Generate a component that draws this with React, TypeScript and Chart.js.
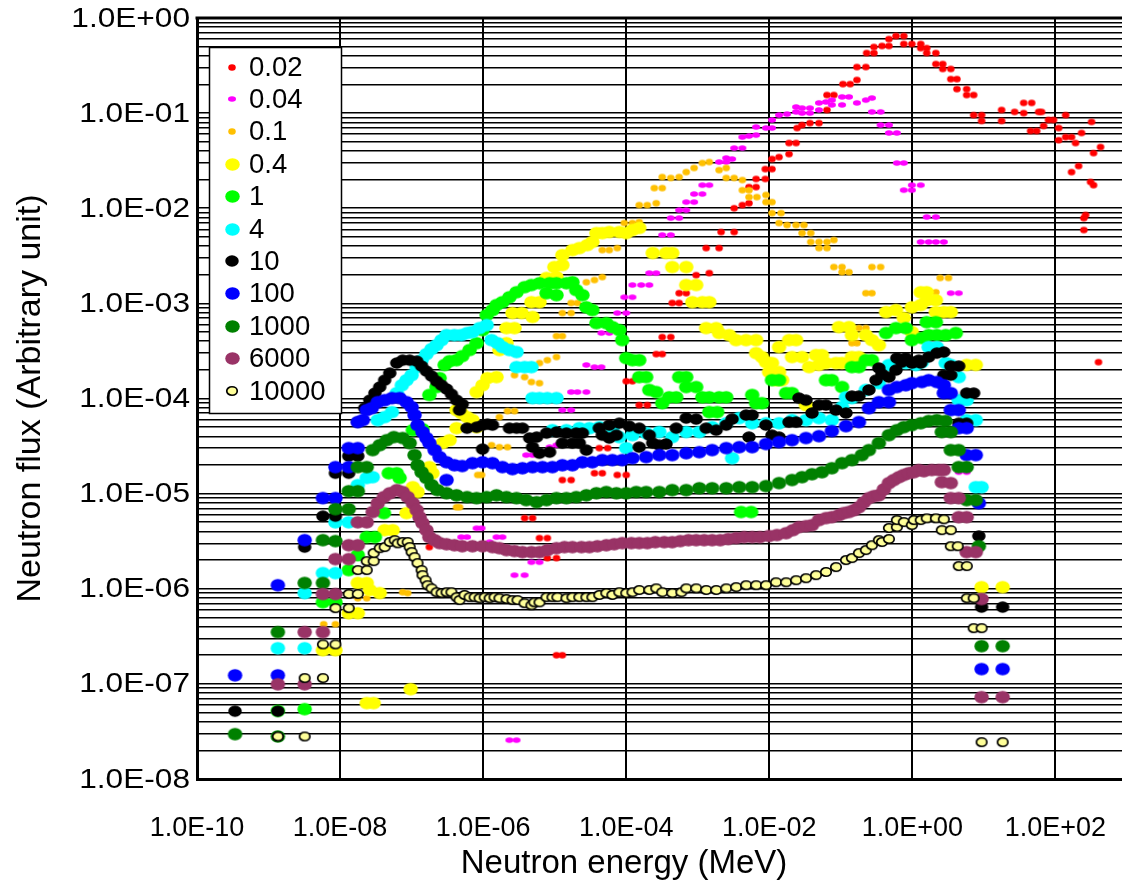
import React, { useEffect, useRef } from 'react';
import { Chart, registerables } from 'chart.js';

Chart.register(...registerables);

// ---------------- data (energy in MeV, flux in arbitrary unit) ----------------
const seriesNames = ['0.02', '0.04', '0.1', '0.4', '1', '4', '10', '100', '1000', '6000', '10000'];

const xTickValues = [1e-10, 1e-8, 1e-6, 1e-4, 1e-2, 1, 1e2];
const xTickLabels = ['1.0E-10', '1.0E-08', '1.0E-06', '1.0E-04', '1.0E-02', '1.0E+00', '1.0E+02'];
const yTickValues = [1, 1e-1, 1e-2, 1e-3, 1e-4, 1e-5, 1e-6, 1e-7, 1e-8];
const yTickLabels = ['1.0E+00', '1.0E-01', '1.0E-02', '1.0E-03', '1.0E-04', '1.0E-05', '1.0E-06', '1.0E-07', '1.0E-08'];

const s002: [number, number][] = [
  [1.77e-7, 2.74e-6], [3.8e-6, 5.53e-6], [4.9e-6, 5.53e-6], [6.13e-6, 3.41e-6], [7.9e-6, 3.41e-6], [7.9e-6, 2.1e-6],
  [1.06e-5, 2.1e-6], [1.06e-5, 2.0e-7], [1.28e-5, 2.0e-7], [1.28e-5, 1.39e-5], [1.7e-5, 1.39e-5], [3.6e-5, 1.64e-5],
  [4.63e-5, 1.64e-5], [4.2e-5, 3.01e-5], [5.5e-5, 3.01e-5], [5.8e-5, 5.5e-5], [7.5e-5, 1.57e-5], [1.0e-4, 1.57e-5],
  [1.0e-4, 1.52e-4], [1.22e-4, 1.52e-4], [1.52e-4, 8.52e-5], [1.97e-4, 8.52e-5], [2.63e-4, 2.93e-4], [3.19e-4, 2.93e-4],
  [3.19e-4, 4.42e-4], [4.2e-4, 4.42e-4], [4.4e-4, 1.01e-3], [5.5e-4, 1.01e-3], [5.5e-4, 1.28e-3], [6.9e-4, 1.28e-3],
  [9.5e-4, 1.98e-3], [1.45e-3, 2.08e-3], [1.31e-3, 3.81e-3], [1.99e-3, 3.81e-3], [2.12e-3, 5.62e-3], [3.23e-3, 5.62e-3],
  [3.23e-3, 1.0e-2], [4.2e-3, 1.08e-2], [5.2e-3, 1.13e-2], [5.2e-3, 1.67e-2], [6.54e-3, 1.67e-2], [6.54e-3, 2.03e-2],
  [8.8e-3, 2.03e-2], [8.8e-3, 2.58e-2], [1.09e-2, 2.58e-2], [1.09e-2, 3.29e-2], [1.37e-2, 3.45e-2], [1.89e-2, 3.71e-2],
  [1.89e-2, 4.85e-2], [2.37e-2, 4.85e-2], [2.45e-2, 6.97e-2], [2.87e-2, 7.5e-2], [3.7e-2, 7.86e-2], [4.95e-2, 7.86e-2],
  [6.4e-2, 1.08e-1], [6.4e-2, 1.55e-1], [8.0e-2, 1.55e-1], [1.07e-1, 2.02e-1], [1.35e-1, 2.02e-1], [1.68e-1, 2.23e-1],
  [1.68e-1, 3.05e-1], [2.24e-1, 3.05e-1], [2.3e-1, 4.28e-1], [2.9e-1, 4.28e-1], [2.9e-1, 4.96e-1], [3.76e-1, 5.08e-1],
  [4.7e-1, 5.08e-1], [4.7e-1, 6.0e-1], [5.9e-1, 6.46e-1], [7.6e-1, 6.46e-1], [7.6e-1, 5.33e-1], [9.85e-1, 5.33e-1],
  [1.31, 5.33e-1], [1.31, 4.83e-1], [1.59, 4.83e-1], [1.59, 4.28e-1], [2.13, 4.28e-1], [2.13, 3.28e-1], [2.66, 3.28e-1],
  [2.66, 2.91e-1], [3.45, 2.91e-1], [3.45, 2.28e-1], [4.2, 2.28e-1], [4.2, 1.79e-1], [5.75, 1.79e-1], [5.75, 1.55e-1],
  [7.2, 1.55e-1], [7.2, 9.53e-2], [9.3, 9.53e-2], [9.3, 8.27e-2], [17.7, 1.08e-1], [17.7, 8.27e-2], [26.9, 1.03e-1],
  [36, 1.0e-1], [36, 1.28e-1], [46.6, 1.28e-1], [45, 6.49e-2], [54.7, 6.49e-2], [58.3, 1.03e-1], [64, 1.03e-1],
  [68.4, 7.33e-2], [80, 8.47e-2], [94, 8.47e-2], [111, 6.97e-2], [111, 5.2e-2], [139, 5.6e-2], [168, 5.6e-2],
  [139, 9.53e-2], [191, 4.85e-2], [232, 6.19e-2], [320, 8.08e-2], [427, 4.4e-2], [341, 3.8e-2], [168, 2.4e-2],
  [211, 2.78e-2], [310, 1.89e-2], [341, 1.75e-2], [264, 8.5e-3], [250, 7.88e-3], [250, 5.9e-3], [400, 2.41e-4],
];

const s004: [number, number][] = [
  [4.95e-7, 3.49e-6], [5.95e-7, 3.49e-6], [8.1e-7, 4.33e-6], [9.5e-7, 4.33e-6], [1.23e-6, 3.09e-6], [1.54e-6, 3.49e-6],
  [1.86e-6, 3.49e-6], [2.74e-6, 1.39e-6], [3.8e-6, 1.39e-6], [4.73e-6, 1.9e-6], [6.13e-6, 1.9e-6], [2.33e-6, 2.56e-8],
  [2.93e-6, 2.56e-8], [4.0e-6, 2.54e-5], [4.9e-6, 2.54e-5], [8.5e-6, 3.08e-5], [1.06e-5, 3.23e-5], [1.28e-5, 7.55e-5],
  [1.7e-5, 7.55e-5], [1.7e-5, 1.17e-4], [2.08e-5, 1.17e-4], [2.77e-5, 1.17e-4], [2.77e-5, 2.25e-4], [3.6e-5, 2.14e-4],
  [4.5e-5, 2.14e-4], [4.5e-5, 4.88e-4], [5.8e-5, 4.88e-4], [7.5e-5, 7.92e-4], [1.0e-4, 7.92e-4], [9.4e-5, 1.16e-3],
  [1.22e-4, 1.16e-3], [1.22e-4, 1.56e-3], [1.62e-4, 1.56e-3], [2.1e-4, 1.56e-3], [2.1e-4, 2.08e-3], [2.63e-4, 2.08e-3],
  [3.19e-4, 5.23e-3], [4.2e-4, 5.23e-3], [4.2e-4, 7.88e-3], [5.5e-4, 7.88e-3], [5.5e-4, 9.55e-3], [6.9e-4, 9.55e-3],
  [6.9e-4, 1.16e-2], [8.9e-4, 1.16e-2], [8.9e-4, 1.41e-2], [1.16e-3, 1.41e-2], [1.16e-3, 1.75e-2], [1.45e-3, 1.75e-2],
  [1.99e-3, 3.06e-2], [2.5e-3, 3.06e-2], [2.5e-3, 3.37e-2], [3.02e-3, 3.29e-2], [3.23e-3, 4.29e-2], [4.2e-3, 4.29e-2],
  [4.2e-3, 5.6e-2], [5.2e-3, 5.74e-2], [6.54e-3, 5.88e-2], [6.54e-3, 7.14e-2], [9.0e-3, 6.97e-2], [1.09e-2, 6.97e-2],
  [1.09e-2, 8.47e-2], [1.37e-2, 9.53e-2], [1.77e-2, 9.77e-2], [2.37e-2, 1.03e-1], [2.37e-2, 1.16e-1], [2.87e-2, 1.13e-1],
  [2.87e-2, 1.0e-1], [3.7e-2, 1.0e-1], [3.7e-2, 1.13e-1], [4.95e-2, 1.28e-1], [4.95e-2, 1.08e-1], [6.2e-2, 1.31e-1],
  [7.5e-2, 1.37e-1], [7.5e-2, 1.22e-1], [1.04e-1, 1.48e-1], [1.04e-1, 1.22e-1], [1.3e-1, 1.48e-1], [1.68e-1, 1.28e-1],
  [2.24e-1, 1.37e-1], [2.72e-1, 1.44e-1], [2.72e-1, 1.03e-1], [3.6e-1, 1.03e-1], [3.6e-1, 7.5e-2], [4.7e-1, 7.5e-2],
  [4.7e-1, 6.19e-2], [6.07e-1, 6.19e-2], [6.07e-1, 2.99e-2], [7.6e-1, 2.99e-2], [7.6e-1, 1.55e-2], [9.85e-1, 1.75e-2],
  [1.31, 1.75e-2], [9.85e-1, 1.55e-2], [1.59, 8.09e-3], [2.13, 8.09e-3], [1.31, 4.42e-3], [1.69, 4.42e-3],
  [2.13, 4.42e-3], [2.75, 4.42e-3], [3.45, 1.28e-3], [4.45, 1.28e-3], [4.45, 1.68e-5], [5.75, 1.68e-5],
];

const s01: [number, number][] = [
  [5.9e-9, 4.24e-7], [8.6e-9, 4.24e-7], [1.77e-8, 7.95e-7], [2.36e-8, 7.95e-7], [7.5e-8, 9.2e-7], [8.8e-8, 9.0e-7],
  [4.25e-7, 7.2e-6], [4.68e-7, 7.2e-6], [8.4e-7, 1.57e-5], [9.5e-7, 1.57e-5], [1.31e-6, 3.23e-5], [1.69e-6, 3.08e-5],
  [2.19e-6, 3.08e-5], [1.69e-6, 6.38e-5], [2.19e-6, 7.37e-5], [2.74e-6, 7.37e-5], [2.74e-6, 1.76e-4], [3.8e-6, 1.68e-4],
  [4.73e-6, 1.49e-4], [6.13e-6, 1.45e-4], [6.13e-6, 2.36e-4], [7.9e-6, 2.53e-4], [1.06e-5, 2.73e-4], [1.06e-5, 4.53e-4],
  [1.28e-5, 4.53e-4], [1.28e-5, 7.92e-4], [1.7e-5, 7.92e-4], [1.7e-5, 1.01e-3], [2.08e-5, 1.01e-3], [2.77e-5, 1.67e-3],
  [3.6e-5, 1.76e-3], [4.63e-5, 1.89e-3], [4.63e-5, 3.63e-3], [5.8e-5, 3.63e-3], [7.5e-5, 3.81e-3], [9.4e-5, 6.99e-3],
  [1.22e-4, 6.99e-3], [1.52e-4, 7.15e-3], [1.52e-4, 1.08e-2], [1.97e-4, 1.08e-2], [2.63e-4, 1.13e-2], [2.47e-4, 1.63e-2],
  [3.19e-4, 1.63e-2], [3.19e-4, 2.13e-2], [4.2e-4, 2.08e-2], [5.5e-4, 2.13e-2], [6.9e-4, 2.4e-2], [8.9e-4, 2.65e-2],
  [1.16e-3, 2.99e-2], [1.45e-3, 3.06e-2], [1.99e-3, 2.52e-2], [2.5e-3, 2.65e-2], [2.5e-3, 2.08e-2], [3.23e-3, 2.08e-2],
  [4.2e-3, 1.98e-2], [4.2e-3, 1.55e-2], [5.2e-3, 1.55e-2], [5.2e-3, 1.31e-2], [6.7e-3, 1.31e-2], [9.0e-3, 1.38e-2],
  [9.0e-3, 1.16e-2], [1.09e-2, 1.16e-2], [1.09e-2, 8.89e-3], [1.46e-2, 8.89e-3], [1.37e-2, 6.99e-3], [1.77e-2, 6.66e-3],
  [2.37e-2, 6.66e-3], [3.05e-2, 6.66e-3], [2.87e-2, 5.48e-3], [3.8e-2, 5.48e-3], [3.8e-2, 4.42e-3], [4.95e-2, 4.42e-3],
  [6.4e-2, 4.42e-3], [8.0e-2, 4.63e-3], [4.95e-2, 3.81e-3], [6.4e-2, 3.81e-3], [8.0e-2, 2.41e-3], [1.04e-1, 2.41e-3],
  [1.04e-1, 2.13e-3], [1.3e-1, 2.13e-3], [2.72e-1, 2.41e-3], [3.6e-1, 2.41e-3], [2.24e-1, 1.28e-3], [2.72e-1, 1.28e-3],
  [1.43e-1, 5.5e-4], [1.79e-1, 5.5e-4], [2.24e-1, 5.5e-4], [1.43e-1, 3.82e-4], [1.68e-1, 3.82e-4], [2.45, 1.85e-3],
  [3.2, 1.85e-3], [2.13, 1.31e-3], [1.59, 4.32e-4],
];

const s04: [number, number][] = [
  [5.75e-9, 2.26e-7], [8.6e-9, 2.26e-7], [1.32e-8, 5.53e-7], [1.77e-8, 5.53e-7], [1.77e-8, 1.15e-6], [2.36e-8, 1.15e-6],
  [2.6e-8, 9.7e-7], [3.58e-8, 9.0e-7], [2.36e-8, 6.28e-8], [2.95e-8, 6.28e-8], [9.7e-8, 8.8e-8], [4.2e-8, 4.13e-6],
  [5.45e-8, 4.13e-6], [8.5e-8, 6.24e-6], [1.04e-7, 1.17e-5], [1.21e-7, 1.04e-5], [1.77e-7, 1.9e-5], [1.95e-7, 1.64e-5],
  [2.7e-7, 3.4e-5], [3.4e-7, 3.65e-5], [4.25e-7, 4.88e-5], [4.25e-7, 7.55e-5], [4.95e-7, 7.03e-5], [5.95e-7, 6.38e-5],
  [7.1e-7, 5.93e-5], [8.1e-7, 5.0e-5], [8.1e-7, 1.17e-4], [9.8e-7, 1.38e-4], [1.15e-6, 1.64e-4], [1.54e-6, 1.68e-4],
  [1.69e-6, 3.23e-4], [2.12e-6, 3.82e-4], [2.12e-6, 5.5e-4], [2.74e-6, 5.5e-4], [2.57e-6, 7.92e-4], [3.45e-6, 7.92e-4],
  [4.9e-6, 7.2e-4], [4.73e-6, 1.03e-3], [6.13e-6, 1.03e-3], [7.7e-6, 1.85e-3], [1.06e-5, 1.89e-3], [9.9e-6, 2.41e-3],
  [1.28e-5, 2.53e-3], [1.28e-5, 3.22e-3], [1.77e-5, 3.63e-3], [2.21e-5, 3.81e-3], [2.85e-5, 4.1e-3], [3.36e-5, 4.42e-3],
  [3.83e-5, 5.48e-3], [4.63e-5, 5.48e-3], [5.8e-5, 5.62e-3], [8.0e-5, 5.62e-3], [1.0e-4, 5.48e-3], [1.22e-4, 5.9e-3],
  [1.52e-4, 6.2e-3], [2.35e-4, 3.38e-3], [3.6e-4, 3.38e-3], [4.4e-4, 3.38e-3], [4.4e-4, 2.41e-3], [6.9e-4, 2.41e-3],
  [6.9e-4, 1.56e-3], [9.5e-4, 1.56e-3], [8.4e-4, 1.03e-3], [1.16e-3, 1.03e-3], [1.45e-3, 1.03e-3], [1.31e-3, 5.5e-4],
  [1.81e-3, 5.5e-4], [1.99e-3, 4.88e-4], [2.75e-3, 4.64e-4], [3.44e-3, 4.11e-4], [4.74e-3, 4.11e-4], [6.54e-3, 4.11e-4],
  [6.54e-3, 3.0e-4], [7.9e-3, 2.73e-4], [9.0e-3, 2.41e-4], [1.09e-2, 2.36e-4], [9.94e-3, 1.9e-4], [1.37e-2, 1.9e-4],
  [1.24e-2, 1.56e-4], [1.51e-2, 1.56e-4], [1.37e-2, 3.47e-4], [1.89e-2, 4.11e-4], [2.37e-2, 4.11e-4], [2.08e-2, 2.73e-4],
  [2.87e-2, 2.73e-4], [3.26e-2, 8.52e-5], [3.6e-2, 2.14e-4], [4.95e-2, 2.25e-4], [6.2e-2, 2.36e-4], [8.56e-2, 2.36e-4],
  [1.04e-1, 2.36e-4], [1.43e-1, 2.73e-4], [1.79e-1, 2.73e-4], [4.5e-2, 2.86e-4], [5.45e-2, 2.86e-4], [9.4e-2, 5.63e-4],
  [1.3e-1, 5.63e-4], [1.43e-1, 4.64e-4], [2.24e-1, 4.64e-4], [2.72e-1, 4.11e-4], [3.4e-1, 3.64e-4], [4.3e-1, 8.1e-4],
  [5.9e-1, 8.5e-4], [7.6e-1, 7.03e-4], [9.85e-1, 9.1e-4], [1.31, 9.6e-4], [1.31, 1.31e-3], [1.59, 1.31e-3],
  [1.59, 1.08e-3], [2.13, 1.08e-3], [2.13, 8.1e-4], [2.75, 8.1e-4], [3.45, 8.1e-4], [9.85e-1, 5.0e-4], [5.75, 2.25e-4],
  [7.7, 2.25e-4], [9.3, 1.04e-6], [18.3, 1.04e-6],
];

const s1: [number, number][] = [
  [1.35e-9, 5.2e-8], [3.2e-9, 5.42e-8], [5.75e-9, 7.22e-7], [8.6e-9, 7.22e-7], [1.32e-8, 1.57e-6], [1.77e-8, 2.26e-6],
  [2.36e-8, 3.49e-6], [3.07e-8, 3.49e-6], [4.1e-8, 6.24e-6], [4.8e-8, 1.64e-5], [6.2e-8, 1.64e-5], [6.8e-8, 1.46e-5],
  [1.04e-7, 4.65e-5], [1.42e-7, 4.76e-5], [1.77e-7, 1.09e-4], [2.23e-7, 1.32e-4], [2.46e-7, 1.64e-4], [2.9e-7, 2.25e-4],
  [3.4e-7, 2.47e-4], [4.25e-7, 2.53e-4], [5.1e-7, 2.79e-4], [6.45e-7, 3.23e-4], [8.1e-7, 3.82e-4], [9.8e-7, 5.24e-4],
  [1.12e-6, 7.53e-4], [1.35e-6, 8.5e-4], [1.54e-6, 9.6e-4], [1.86e-6, 1.03e-3], [2.33e-6, 1.16e-3], [2.93e-6, 1.31e-3],
  [3.8e-6, 1.48e-3], [4.73e-6, 1.56e-3], [6.13e-6, 1.63e-3], [8.5e-6, 1.63e-3], [1.06e-5, 1.63e-3], [1.46e-5, 1.63e-3],
  [1.77e-5, 1.67e-3], [7.7e-6, 1.28e-3], [1.06e-5, 1.22e-3], [2.0e-5, 1.38e-3], [2.44e-5, 1.22e-3], [2.77e-5, 9.1e-4],
  [3.36e-5, 8.5e-4], [3.83e-5, 6.2e-4], [5.27e-5, 6.2e-4], [6.4e-5, 5.63e-4], [8.0e-5, 5.24e-4], [8.8e-5, 4.11e-4],
  [1.0e-4, 2.66e-4], [1.22e-4, 2.53e-4], [1.52e-4, 2.53e-4], [1.52e-4, 1.68e-4], [1.9e-4, 1.68e-4], [2.1e-4, 1.23e-4],
  [2.63e-4, 1.17e-4], [3.19e-4, 8.93e-5], [3.98e-4, 1.03e-4], [5.0e-4, 1.03e-4], [5.5e-4, 1.68e-4], [6.9e-4, 1.68e-4],
  [6.9e-4, 1.32e-4], [9.5e-4, 1.32e-4], [1.16e-3, 1.03e-4], [1.45e-3, 1.03e-4], [1.99e-3, 1.03e-4], [2.5e-3, 1.03e-4],
  [1.45e-3, 7.2e-5], [1.87e-3, 7.2e-5], [4.04e-3, 6.4e-6], [5.57e-3, 6.4e-6], [5.76e-3, 1.09e-4], [6.54e-3, 8.93e-5],
  [7.9e-3, 8.93e-5], [1.09e-2, 1.56e-4], [1.37e-2, 1.56e-4], [1.72e-2, 1.14e-4], [2.08e-2, 1.14e-4], [6.2e-2, 1.56e-4],
  [7.5e-2, 1.56e-4], [1.04e-1, 1.32e-4], [1.43e-1, 2.14e-4], [1.79e-1, 2.14e-4], [2.24e-1, 2.53e-4], [2.72e-1, 2.53e-4],
  [4.3e-1, 4.88e-4], [5.9e-1, 5.5e-4], [8.1e-1, 5.5e-4], [9.85e-1, 4.11e-4], [1.36, 4.32e-4], [1.69, 4.64e-4],
  [2.2, 4.64e-4], [2.93, 4.64e-4], [4.05, 4.88e-4], [1.59, 6.35e-4], [2.13, 6.35e-4],
];

const s4: [number, number][] = [
  [1.35e-9, 2.37e-7], [3.2e-9, 2.37e-7], [3.2e-9, 9.0e-7], [5.75e-9, 1.46e-6], [8.6e-9, 1.46e-6], [8.6e-9, 5.0e-6],
  [1.32e-8, 5.0e-6], [1.77e-8, 1.23e-5], [2.36e-8, 1.46e-5], [2.86e-8, 1.49e-5], [3.36e-8, 5.93e-5], [4.2e-8, 6.38e-5],
  [5.3e-8, 7.2e-5], [6.2e-8, 1.14e-4], [7.3e-8, 1.38e-4], [8.5e-8, 1.56e-4], [1.0e-7, 1.76e-4], [1.18e-7, 2.14e-4],
  [1.38e-7, 2.53e-4], [1.61e-7, 2.93e-4], [1.9e-7, 3.31e-4], [2.23e-7, 3.64e-4], [2.62e-7, 4.11e-4], [3.08e-7, 4.64e-4],
  [3.97e-7, 4.64e-4], [4.95e-7, 4.64e-4], [6.0e-7, 4.88e-4], [7.1e-7, 5.0e-4], [8.9e-7, 5.5e-4], [1.12e-6, 5.91e-4],
  [1.31e-6, 4.11e-4], [1.59e-6, 3.82e-4], [1.86e-6, 3.47e-4], [2.33e-6, 3.23e-4], [2.93e-6, 3.08e-4], [2.93e-6, 2.14e-4],
  [3.8e-6, 2.14e-4], [4.73e-6, 2.14e-4], [4.9e-6, 1.01e-4], [6.13e-6, 1.01e-4], [7.9e-6, 1.01e-4], [1.06e-5, 1.01e-4],
  [9.3e-6, 4.65e-5], [1.46e-5, 4.65e-5], [2.21e-5, 4.88e-5], [3.06e-5, 4.88e-5], [4.2e-5, 5.0e-5], [6.4e-5, 4.88e-5],
  [8.0e-5, 3.93e-5], [1.0e-4, 3.01e-5], [1.22e-4, 4.12e-5], [1.9e-4, 4.33e-5], [2.9e-4, 4.44e-5], [4.4e-4, 3.93e-5],
  [6.9e-4, 4.44e-5], [1.05e-3, 4.44e-5], [1.59e-3, 5.0e-5], [2.5e-3, 5.5e-5], [3.02e-3, 2.36e-5], [3.8e-3, 6.22e-5],
  [5.76e-3, 5.5e-5], [9.0e-3, 5.5e-5], [1.37e-2, 5.5e-5], [2.08e-2, 5.93e-5], [3.26e-2, 5.93e-5], [4.95e-2, 6.22e-5],
  [7.5e-2, 5.93e-5], [1.04e-1, 8.12e-5], [1.18e-1, 1.03e-4], [1.43e-1, 1.01e-4], [2.24e-1, 1.23e-4], [3.4e-1, 1.45e-4],
  [4.7e-1, 2.25e-4], [6.07e-1, 2.25e-4], [8.1e-1, 2.36e-4], [1.12, 2.25e-4], [1.36, 2.41e-4], [1.69, 3.47e-4],
  [2.2, 3.47e-4], [2.93, 2.36e-4], [3.45, 2.25e-4], [4.45, 1.68e-4], [4.45, 9.6e-5], [5.75, 9.6e-5], [5.75, 5.93e-5],
  [7.7, 5.93e-5], [7.7, 1.17e-5], [9.3, 1.17e-5],
];

const s10: [number, number][] = [
  [3.4e-10, 5.17e-8], [1.35e-9, 5.17e-8], [3.2e-9, 2.74e-6], [5.75e-9, 5.8e-6], [8.6e-9, 5.8e-6], [8.6e-9, 1.64e-5],
  [1.32e-8, 1.64e-5], [1.32e-8, 2.48e-5], [1.77e-8, 2.48e-5], [1.77e-8, 5.65e-5], [2.21e-8, 7.92e-5], [2.6e-8, 9.6e-5],
  [3.07e-8, 1.14e-4], [3.58e-8, 1.32e-4], [4.2e-8, 1.56e-4], [4.95e-8, 1.85e-4], [6.2e-8, 2.36e-4], [7.5e-8, 2.53e-4],
  [9.4e-8, 2.53e-4], [1.18e-7, 2.47e-4], [1.38e-7, 2.19e-4], [1.61e-7, 1.94e-4], [1.9e-7, 1.72e-4], [2.23e-7, 1.52e-4],
  [2.62e-7, 1.38e-4], [3.08e-7, 1.26e-4], [3.6e-7, 1.11e-4], [4.25e-7, 9.6e-5], [4.68e-7, 7.55e-5], [5.1e-7, 8.72e-5],
  [5.95e-7, 4.88e-5], [8.1e-7, 5.0e-5], [9.8e-7, 5.25e-5], [1.15e-6, 5.38e-5], [1.35e-6, 5.25e-5], [9.8e-7, 2.94e-5],
  [2.33e-6, 4.88e-5], [2.93e-6, 4.88e-5], [3.55e-6, 4.88e-5], [4.47e-6, 3.84e-5], [5.6e-6, 3.93e-5], [7.7e-6, 4.33e-5],
  [1.06e-5, 4.44e-5], [1.46e-5, 4.33e-5], [2.0e-5, 4.33e-5], [2.44e-5, 4.33e-5], [4.9e-6, 3.08e-5], [6.13e-6, 2.66e-5],
  [8.5e-6, 2.73e-5], [1.28e-5, 3.4e-5], [1.77e-5, 3.4e-5], [2.21e-5, 3.4e-5], [2.77e-5, 2.87e-5], [4.2e-5, 4.88e-5],
  [5.8e-5, 5.25e-5], [8.0e-5, 5.5e-5], [1.1e-4, 5.12e-5], [1.52e-4, 4.88e-5], [4.63e-5, 4.12e-5], [5.8e-5, 3.84e-5],
  [7.3e-5, 4.12e-5], [2.1e-4, 4.12e-5], [2.9e-4, 3.23e-5], [3.6e-4, 3.32e-5], [1.52e-4, 3.08e-5], [2.35e-4, 3.4e-5],
  [5.0e-4, 4.88e-5], [6.9e-4, 6.22e-5], [9.5e-4, 6.07e-5], [1.31e-3, 4.88e-5], [1.81e-3, 4.65e-5], [2.5e-3, 5.25e-5],
  [3.02e-3, 6.07e-5], [4.74e-3, 6.7e-5], [5.76e-3, 6.7e-5], [5.2e-3, 3.93e-5], [9.0e-3, 5.25e-5], [1.09e-2, 4.12e-5],
  [1.37e-2, 3.93e-5], [1.89e-2, 5.65e-5], [2.37e-2, 5.65e-5], [2.6e-2, 1.01e-4], [3.26e-2, 9.6e-5], [3.95e-2, 7.03e-5],
  [4.95e-2, 8.52e-5], [6.2e-2, 8.52e-5], [8.56e-2, 7.55e-5], [1.18e-1, 7.03e-5], [1.43e-1, 1.06e-4], [1.79e-1, 1.06e-4],
  [2.47e-1, 1.23e-4], [3.1e-1, 1.56e-4], [3.4e-1, 2.09e-4], [3.76e-1, 1.8e-4], [4.7e-1, 1.68e-4], [5.9e-1, 1.99e-4],
  [6.07e-1, 2.66e-4], [7.1e-1, 2.41e-4], [8.1e-1, 2.66e-4], [9.85e-1, 2.36e-4], [1.05, 2.41e-4], [1.23, 2.53e-4],
  [1.31, 2.36e-4], [1.69, 2.73e-4], [2.2, 3.0e-4], [2.75, 3.08e-4], [2.75, 1.76e-4], [3.45, 1.76e-4], [3.45, 2.19e-4],
  [4.45, 2.19e-4], [4.45, 5.5e-5], [5.75, 5.5e-5], [5.75, 1.14e-4], [7.2, 1.14e-4], [8.5, 3.58e-6], [9.3, 6.41e-7],
  [18.3, 6.41e-7],
];

const s100: [number, number][] = [
  [3.4e-10, 1.23e-7], [1.35e-9, 1.09e-6], [1.35e-9, 1.23e-7], [3.2e-9, 3.24e-6], [5.75e-9, 8.97e-6], [8.6e-9, 8.97e-6],
  [8.6e-9, 1.9e-5], [1.32e-8, 1.9e-5], [1.32e-8, 3.01e-5], [1.77e-8, 3.01e-5], [1.77e-8, 5.65e-5], [2.08e-8, 5.93e-5],
  [2.36e-8, 7.55e-5], [2.77e-8, 7.92e-5], [3.36e-8, 9.15e-5], [4.2e-8, 9.6e-5], [5.3e-8, 1.01e-4], [6.8e-8, 1.01e-4],
  [8.5e-8, 9.15e-5], [1.0e-7, 8.12e-5], [1.1e-7, 6.7e-5], [1.21e-7, 5.25e-5], [1.42e-7, 4.44e-5], [1.61e-7, 3.84e-5],
  [1.77e-7, 3.4e-5], [2.1e-7, 2.87e-5], [2.46e-7, 2.42e-5], [3.08e-7, 2.14e-5], [3.97e-7, 1.99e-5], [5.1e-7, 1.95e-5],
  [7.1e-7, 2.09e-5], [9.8e-7, 2.14e-5], [1.35e-6, 2.09e-5], [1.86e-6, 1.9e-5], [2.57e-6, 1.81e-5], [3.55e-6, 1.85e-5],
  [4.9e-6, 1.9e-5], [6.75e-6, 1.9e-5], [9.3e-6, 1.9e-5], [1.28e-5, 1.99e-5], [1.77e-5, 1.99e-5], [2.44e-5, 2.14e-5],
  [3.36e-5, 2.14e-5], [4.63e-5, 2.25e-5], [6.4e-5, 2.25e-5], [8.8e-5, 2.25e-5], [1.22e-4, 2.36e-5], [1.9e-4, 2.42e-5],
  [2.9e-4, 2.54e-5], [4.4e-4, 2.54e-5], [6.9e-4, 2.66e-5], [1.05e-3, 2.73e-5], [1.59e-3, 2.87e-5], [2.5e-3, 3.01e-5],
  [3.8e-3, 3.08e-5], [5.76e-3, 3.08e-5], [9.0e-3, 3.32e-5], [1.37e-2, 3.48e-5], [2.08e-2, 3.65e-5], [3.26e-2, 3.84e-5],
  [4.95e-2, 4.02e-5], [7.5e-2, 4.54e-5], [1.18e-1, 5.12e-5], [1.79e-1, 5.65e-5], [2.47e-1, 7.92e-5], [3.4e-1, 9.15e-5],
  [4.7e-1, 9.15e-5], [4.7e-1, 1.23e-4], [6.07e-1, 1.32e-4], [8.1e-1, 1.38e-4], [9.85e-1, 1.45e-4], [1.36, 1.49e-4],
  [1.69, 1.56e-4], [2.2, 1.49e-4], [2.75, 1.38e-4], [2.75, 1.14e-4], [3.45, 1.14e-4], [3.45, 7.55e-5], [4.45, 7.55e-5],
  [4.45, 4.88e-5], [5.75, 4.88e-5], [5.75, 2.54e-5], [7.7, 2.54e-5], [8.5, 7.93e-6], [9.3, 1.43e-7], [18.3, 1.43e-7],
  [3.08e-7, 1.39e-5],
];

const s1000: [number, number][] = [
  [3.4e-10, 2.96e-8], [1.35e-9, 2.8e-8], [1.35e-9, 3.5e-7], [3.2e-9, 1.15e-6], [5.75e-9, 1.15e-6], [5.75e-9, 3.24e-6],
  [8.6e-9, 3.17e-6], [8.6e-9, 6.87e-6], [1.32e-8, 6.87e-6], [1.32e-8, 1.06e-5], [1.77e-8, 1.06e-5], [1.77e-8, 1.9e-5],
  [2.36e-8, 1.9e-5], [2.86e-8, 2.87e-5], [3.58e-8, 3.23e-5], [4.5e-8, 3.65e-5], [5.65e-8, 3.93e-5], [7.5e-8, 3.84e-5],
  [9.4e-8, 3.4e-5], [1.1e-7, 2.54e-5], [1.21e-7, 1.99e-5], [1.38e-7, 1.68e-5], [1.61e-7, 1.46e-5], [1.9e-7, 1.23e-5],
  [2.3e-7, 1.09e-5], [3.08e-7, 1.01e-5], [4.25e-7, 9.6e-6], [5.95e-7, 9.2e-6], [8.1e-7, 8.97e-6], [1.12e-6, 9.2e-6],
  [1.54e-6, 9.6e-6], [2.12e-6, 9.2e-6], [2.93e-6, 8.97e-6], [4.0e-6, 8.55e-6], [5.6e-6, 8.14e-6], [7.7e-6, 8.55e-6],
  [1.06e-5, 8.97e-6], [1.46e-5, 8.97e-6], [2.0e-5, 9.2e-6], [2.77e-5, 9.6e-6], [3.83e-5, 1.01e-5], [5.27e-5, 1.04e-5],
  [7.3e-5, 1.01e-5], [1.0e-4, 1.01e-5], [1.38e-4, 1.04e-5], [1.9e-4, 1.04e-5], [2.9e-4, 1.04e-5], [4.4e-4, 1.09e-5],
  [6.9e-4, 1.09e-5], [1.05e-3, 1.14e-5], [1.59e-3, 1.14e-5], [2.5e-3, 1.14e-5], [3.8e-3, 1.17e-5], [5.76e-3, 1.17e-5],
  [9.0e-3, 1.2e-5], [1.37e-2, 1.29e-5], [2.08e-2, 1.39e-5], [2.87e-2, 1.49e-5], [3.95e-2, 1.6e-5], [5.45e-2, 1.68e-5],
  [7.5e-2, 1.85e-5], [1.04e-1, 2.09e-5], [1.43e-1, 2.25e-5], [1.97e-1, 2.54e-5], [2.47e-1, 2.87e-5], [3.4e-1, 3.4e-5],
  [4.7e-1, 4.12e-5], [6.07e-1, 4.65e-5], [7.6e-1, 5.0e-5], [9.85e-1, 5.25e-5], [1.31, 5.5e-5], [1.69, 5.8e-5],
  [2.2, 5.93e-5], [2.9, 5.8e-5], [2.58, 4.44e-5], [3.45, 4.44e-5], [3.45, 2.87e-5], [4.45, 2.87e-5], [4.45, 1.9e-5],
  [5.75, 1.9e-5], [5.75, 8.55e-6], [7.7, 8.55e-6], [8.5, 2.8e-6], [9.3, 2.49e-7], [18.3, 2.49e-7],
];

const s6000: [number, number][] = [
  [1.35e-9, 9.9e-8], [3.2e-9, 9.9e-8], [3.2e-9, 3.5e-7], [5.75e-9, 3.5e-7], [5.75e-9, 8.8e-7], [8.6e-9, 8.8e-7],
  [8.6e-9, 2.05e-6], [1.32e-8, 2.05e-6], [1.32e-8, 2.87e-6], [1.77e-8, 2.87e-6], [1.77e-8, 5.0e-6], [2.36e-8, 5.0e-6],
  [2.86e-8, 6.4e-6], [3.36e-8, 7.9e-6], [4.1e-8, 9.2e-6], [4.95e-8, 1.01e-5], [6.2e-8, 1.09e-5], [7.5e-8, 1.04e-5],
  [8.8e-8, 9.2e-6], [1.04e-7, 7.9e-6], [1.18e-7, 6.7e-6], [1.29e-7, 5.66e-6], [1.42e-7, 4.9e-6], [1.61e-7, 4.13e-6],
  [1.77e-7, 3.49e-6], [2.1e-7, 3.24e-6], [2.46e-7, 3.02e-6], [3.08e-7, 2.94e-6], [3.97e-7, 2.87e-6], [5.1e-7, 2.8e-6],
  [7.1e-7, 2.8e-6], [9.8e-7, 2.8e-6], [1.35e-6, 2.74e-6], [1.69e-6, 2.67e-6], [2.12e-6, 2.55e-6], [2.74e-6, 2.49e-6],
  [3.55e-6, 2.43e-6], [4.73e-6, 2.43e-6], [6.13e-6, 2.43e-6], [7.9e-6, 2.55e-6], [1.06e-5, 2.67e-6], [1.37e-5, 2.74e-6],
  [1.77e-5, 2.74e-6], [2.37e-5, 2.74e-6], [3.06e-5, 2.74e-6], [3.95e-5, 2.8e-6], [5.27e-5, 2.87e-6], [6.8e-5, 2.94e-6],
  [8.8e-5, 3.02e-6], [1.18e-4, 3.02e-6], [1.52e-4, 3.02e-6], [1.97e-4, 3.02e-6], [2.55e-4, 3.09e-6], [3.4e-4, 3.09e-6],
  [4.4e-4, 3.09e-6], [5.7e-4, 3.17e-6], [7.4e-4, 3.24e-6], [9.5e-4, 3.24e-6], [1.23e-3, 3.24e-6], [1.59e-3, 3.24e-6],
  [2.06e-3, 3.24e-6], [2.66e-3, 3.33e-6], [3.44e-3, 3.41e-6], [4.45e-3, 3.49e-6], [5.76e-3, 3.49e-6], [7.4e-3, 3.49e-6],
  [9.9e-3, 3.58e-6], [1.28e-2, 3.67e-6], [1.72e-2, 3.84e-6], [2.14e-2, 4.13e-6], [2.6e-2, 4.45e-6], [3.26e-2, 4.55e-6],
  [3.95e-2, 4.66e-6], [4.95e-2, 5.27e-6], [6.2e-2, 5.53e-6], [7.5e-2, 5.66e-6], [9.4e-2, 5.95e-6], [1.1e-1, 6.24e-6],
  [1.3e-1, 6.4e-6], [1.53e-1, 6.7e-6], [1.79e-1, 7.2e-6], [2.1e-1, 8.1e-6], [2.47e-1, 8.97e-6], [2.9e-1, 9.4e-6],
  [3.4e-1, 9.6e-6], [4.0e-1, 1.11e-5], [4.7e-1, 1.29e-5], [5.5e-1, 1.39e-5], [6.5e-1, 1.49e-5], [7.6e-1, 1.57e-5],
  [8.9e-1, 1.64e-5], [1.05, 1.68e-5], [1.23, 1.77e-5], [1.45, 1.72e-5], [1.87, 1.77e-5], [2.35, 1.77e-5],
  [2.75, 1.77e-5], [2.58, 1.32e-5], [3.45, 1.29e-5], [3.45, 8.97e-6], [4.45, 8.97e-6], [4.45, 5.66e-6], [5.75, 5.66e-6],
  [5.75, 2.43e-6], [7.7, 2.43e-6], [9.3, 7.8e-7], [9.3, 7.25e-8], [18.3, 7.25e-8],
];

const s10000: [number, number][] = [
  [1.35e-9, 2.8e-8], [3.2e-9, 2.8e-8], [3.2e-9, 1.15e-7], [5.75e-9, 1.15e-7], [5.75e-9, 2.6e-7], [8.6e-9, 2.6e-7],
  [8.6e-9, 6.25e-7], [1.32e-8, 6.25e-7], [1.32e-8, 8.8e-7], [1.77e-8, 8.8e-7], [1.77e-8, 1.57e-6], [2.36e-8, 1.57e-6],
  [2.36e-8, 1.95e-6], [2.95e-8, 1.95e-6], [2.95e-8, 2.37e-6], [3.58e-8, 2.67e-6], [4.2e-8, 2.74e-6], [4.95e-8, 3.1e-6],
  [5.8e-8, 3.24e-6], [6.4e-8, 3.0e-6], [7.5e-8, 3.1e-6], [8.8e-8, 3.1e-6], [9.4e-8, 2.74e-6], [1.0e-7, 2.43e-6],
  [1.1e-7, 2.15e-6], [1.21e-7, 1.86e-6], [1.38e-7, 1.57e-6], [1.42e-7, 1.39e-6], [1.57e-7, 1.23e-6], [1.67e-7, 1.09e-6],
  [1.9e-7, 1.01e-6], [2.23e-7, 9.2e-7], [2.62e-7, 9.0e-7], [3.08e-7, 9.2e-7], [3.6e-7, 9.2e-7], [4.25e-7, 8.15e-7],
  [4.68e-7, 7.6e-7], [5.5e-7, 8.6e-7], [6.45e-7, 8.15e-7], [7.6e-7, 8.15e-7], [8.9e-7, 7.95e-7], [1.05e-6, 8.15e-7],
  [1.23e-6, 7.95e-7], [1.44e-6, 8.15e-7], [1.69e-6, 7.95e-7], [2.12e-6, 7.8e-7], [2.57e-6, 7.6e-7], [3.02e-6, 7.6e-7],
  [3.78e-6, 7.05e-7], [4.73e-6, 6.7e-7], [5.2e-6, 7.2e-7], [6.13e-6, 7.2e-7], [7.68e-6, 8.15e-7], [9.3e-6, 8.15e-7],
  [1.09e-5, 8.15e-7], [1.46e-5, 7.95e-7], [1.77e-5, 8.15e-7], [2.21e-5, 8.15e-7], [2.77e-5, 8.15e-7], [3.36e-5, 8.15e-7],
  [4.2e-5, 8.6e-7], [5.27e-5, 9.0e-7], [6.4e-5, 8.6e-7], [8.0e-5, 9.2e-7], [1.0e-4, 9.0e-7], [1.22e-4, 9.2e-7],
  [1.52e-4, 9.7e-7], [2.1e-4, 9.7e-7], [2.63e-4, 1.01e-6], [3.19e-4, 9.2e-7], [4.4e-4, 9.0e-7], [5.9e-4, 9.2e-7],
  [6.9e-4, 1.01e-6], [9.5e-4, 1.01e-6], [1.31e-3, 9.7e-7], [1.81e-3, 9.7e-7], [2.5e-3, 1.01e-6], [3.44e-3, 1.04e-6],
  [4.74e-3, 1.09e-6], [6.54e-3, 1.09e-6], [9.0e-3, 1.09e-6], [1.24e-2, 1.17e-6], [1.72e-2, 1.17e-6], [2.37e-2, 1.23e-6],
  [3.26e-2, 1.29e-6], [4.5e-2, 1.39e-6], [6.2e-2, 1.5e-6], [8.56e-2, 1.69e-6], [1.18e-1, 2.0e-6], [1.43e-1, 2.1e-6],
  [1.79e-1, 2.37e-6], [2.24e-1, 2.55e-6], [2.72e-1, 2.87e-6], [3.4e-1, 3.24e-6], [3.76e-1, 3.1e-6], [4.7e-1, 3.33e-6],
  [4.7e-1, 4.35e-6], [6.07e-1, 4.45e-6], [6.07e-1, 5.27e-6], [7.6e-1, 5.02e-6], [9.85e-1, 4.67e-6], [1.05, 5.27e-6],
  [1.31, 5.27e-6], [1.59, 5.5e-6], [2.13, 5.5e-6], [2.75, 5.37e-6], [2.58, 4.13e-6], [3.45, 4.13e-6], [3.45, 2.8e-6],
  [4.31, 2.8e-6], [4.45, 1.73e-6], [5.77, 1.73e-6], [5.77, 7.95e-7], [7.2, 7.95e-7], [7.2, 3.85e-7], [9.3, 3.85e-7],
  [9.3, 2.44e-8], [18.3, 2.44e-8],
];

const seriesData = [s002, s004, s01, s04, s1, s4, s10, s100, s1000, s6000, s10000];

// ---------------- styles ----------------
const FONT = '"Liberation Sans", Arial, Helvetica, sans-serif';
const markerStyles = [
  { fill: '#FF0000', w: 7.5, h: 6.5, stroke: null },
  { fill: '#FF00FF', w: 8, h: 5.5, stroke: null },
  { fill: '#FFC000', w: 7.5, h: 6.5, stroke: null },
  { fill: '#FFFF00', w: 14.5, h: 12.5, stroke: null },
  { fill: '#00FF00', w: 14.5, h: 12.5, stroke: null },
  { fill: '#00FFFF', w: 14.5, h: 12.5, stroke: null },
  { fill: '#000000', w: 13.5, h: 11.5, stroke: null },
  { fill: '#0000FF', w: 14.5, h: 12.5, stroke: null },
  { fill: '#008000', w: 14.5, h: 12.5, stroke: null },
  { fill: '#993366', w: 14.5, h: 12.5, stroke: null },
  { fill: '#FFFF99', w: 10.5, h: 8.5, stroke: '#000000' },
];

function makeMarker(w: number, h: number, fill: string, stroke: string | null) {
  const lw = stroke ? 1.7 : 0;
  const c = document.createElement('canvas');
  c.width = Math.ceil(w + lw * 2 + 2);
  c.height = Math.ceil(h + lw * 2 + 2);
  const ctx = c.getContext('2d')!;
  ctx.beginPath();
  ctx.ellipse(c.width / 2, c.height / 2, w / 2, h / 2, 0, 0, Math.PI * 2);
  ctx.fillStyle = fill;
  ctx.fill();
  if (stroke) {
    ctx.lineWidth = lw;
    ctx.strokeStyle = stroke;
    ctx.stroke();
  }
  return c;
}

function labelFor(v: number, values: number[], labels: string[]) {
  for (let i = 0; i < values.length; i++) {
    if (Math.abs(Math.log10(v) - Math.log10(values[i])) < 1e-6) return labels[i];
  }
  return '';
}

export default function App() {
  const ref = useRef<HTMLCanvasElement | null>(null);

  useEffect(() => {
    if (!ref.current) return;
    const markers = markerStyles.map((m) => makeMarker(m.w, m.h, m.fill, m.stroke));

    // grid positions for the y axis: every 1..9 x 10^k between 1e-8 and 1
    const yGrid: number[] = [];
    for (let k = -8; k <= 0; k++) {
      for (let m = 1; m <= 9; m++) {
        const v = m * Math.pow(10, k);
        if (v <= 1.0000001) yGrid.push(v);
      }
    }

    const legendPlugin = {
      id: 'insideLegend',
      afterDatasetsDraw(chart: any) {
        const ctx = chart.ctx as CanvasRenderingContext2D;
        ctx.save();
        const x0 = 209, y0 = 47, w = 132, h = 366;
        ctx.fillStyle = '#FFFFFF';
        ctx.fillRect(x0, y0, w, h);
        ctx.strokeStyle = '#000000';
        ctx.lineWidth = 1.5;
        ctx.strokeRect(x0 + 0.5, y0 + 0.5, w, h);
        ctx.font = `27.5px ${FONT}`;
        ctx.fillStyle = '#000000';
        ctx.textAlign = 'left';
        ctx.textBaseline = 'middle';
        seriesNames.forEach((name, i) => {
          const cy = 67 + i * 32.4;
          const mk = markers[i];
          ctx.drawImage(mk, Math.round(232 - mk.width / 2), Math.round(cy - mk.height / 2));
          ctx.fillText(name, 249, cy + 1);
        });
        ctx.restore();
      },
    };

    const framePlugin = {
      id: 'frameAndTitle',
      beforeDatasetsDraw(chart: any) {
        const ctx = chart.ctx as CanvasRenderingContext2D;
        const a = chart.chartArea;
        ctx.save();
        ctx.strokeStyle = '#000';
        ctx.lineWidth = 3;
        ctx.beginPath();
        ctx.moveTo(a.left - 1.5, a.top);
        ctx.lineTo(a.right, a.top);
        ctx.stroke();
        ctx.restore();
      },
      afterDraw(chart: any) {
        const ctx = chart.ctx as CanvasRenderingContext2D;
        const ys = chart.scales.y;
        ctx.save();
        ctx.fillStyle = '#000';
        // y tick labels (drawn slightly wide, as in the original)
        const sx = 1.15;
        ctx.font = `27.5px ${FONT}`;
        ctx.textAlign = 'right';
        ctx.textBaseline = 'middle';
        yTickValues.forEach((v, i) => {
          const py = ys.getPixelForValue(v);
          ctx.save();
          ctx.scale(sx, 1);
          ctx.fillText(yTickLabels[i], 190 / sx, py + 1);
          ctx.restore();
        });
        // x axis title
        ctx.font = `33px ${FONT}`;
        ctx.textAlign = 'center';
        ctx.textBaseline = 'alphabetic';
        ctx.fillText('Neutron energy (MeV)', 624, 873);
        ctx.restore();
      },
    };

    const datasets = seriesNames.map((name, i) => ({
      label: name,
      data: seriesData[i].map(([x, y]) => ({ x, y })),
      pointStyle: markers[i],
      pointRadius: 7,
      showLine: false,
      order: seriesNames.length - 1 - i,
      backgroundColor: markerStyles[i].fill,
      borderColor: markerStyles[i].fill,
    }));

    const chart = new Chart(ref.current, {
      type: 'scatter',
      data: { datasets },
      options: {
        animation: false,
        responsive: false,
        devicePixelRatio: 1,
        events: [],
        layout: { padding: { top: 18, right: 12, left: 0, bottom: 0 } },
        plugins: { legend: { display: false }, tooltip: { enabled: false }, title: { display: false } },
        scales: {
          x: {
            type: 'logarithmic',
            min: 1e-10,
            max: 1e3,
            afterBuildTicks: (s: any) => {
              s.ticks = xTickValues.map((v) => ({ value: v }));
            },
            afterFit: (s: any) => {
              s.height = 109;
            },
            ticks: {
              autoSkip: false,
              maxRotation: 0,
              padding: 33,
              color: '#000',
              font: { family: FONT, size: 27 },
              callback: (v: any) => labelFor(Number(v), xTickValues, xTickLabels),
            },
            grid: { color: '#000', lineWidth: 2, drawTicks: false },
            border: { display: true, color: '#000', width: 3 },
          },
          y: {
            type: 'logarithmic',
            min: 1e-8,
            max: 1,
            afterBuildTicks: (s: any) => {
              s.ticks = yGrid.map((v) => ({ value: v }));
            },
            afterFit: (s: any) => {
              s.width = 197;
            },
            ticks: {
              display: false,
              autoSkip: false,
            },
            grid: { color: '#000', lineWidth: 1.6, drawTicks: false },
            border: { display: true, color: '#000', width: 3 },
            title: {
              display: true,
              text: 'Neutron flux (Arbitrary unit)',
              color: '#000',
              font: { family: FONT, size: 34 },
              padding: { top: 10, bottom: 0 },
            },
          },
        },
      } as any,
      plugins: [framePlugin, legendPlugin],
    });

    return () => chart.destroy();
  }, []);

  return (
    <div
      style={{
        position: 'fixed',
        left: 0,
        top: 0,
        width: 1122,
        height: 888,
        overflow: 'hidden',
        background: '#FFFFFF',
      }}
    >
      <canvas ref={ref} width={1140} height={888} style={{ display: 'block', width: 1140, height: 888 }} />
    </div>
  );
}
